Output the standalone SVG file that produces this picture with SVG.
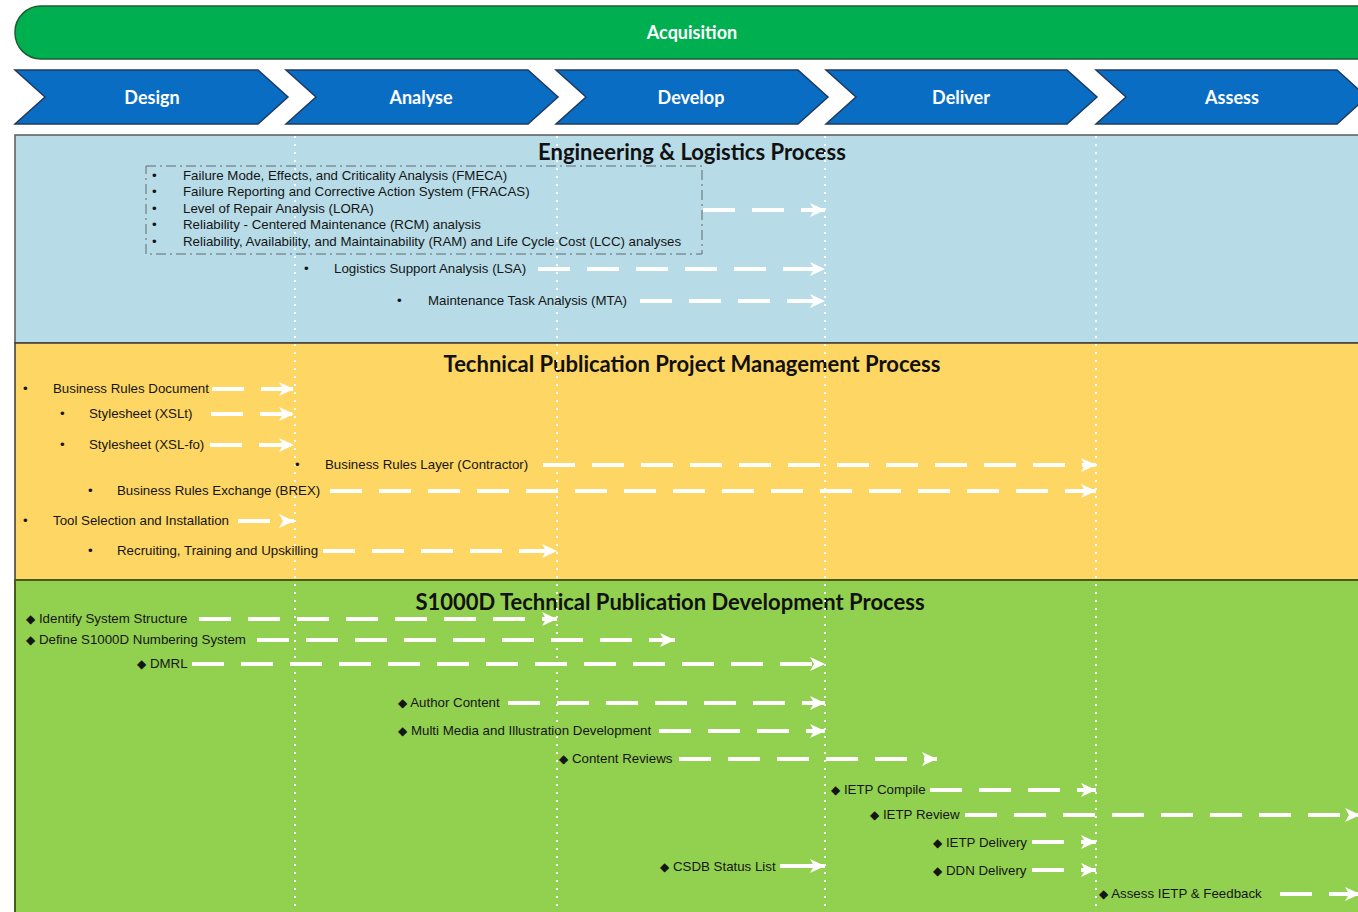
<svg xmlns="http://www.w3.org/2000/svg" width="1358" height="912" viewBox="0 0 1358 912">
<defs>
<style>
.phase{fill:#0a6dc4;stroke:#1f3a5f;stroke-width:1.5}
.phaseT{font-family:Lato,"Open Sans",sans-serif;font-weight:bold;font-size:18px;fill:#fff;text-anchor:middle}
.title{font-family:Lato,"Open Sans",sans-serif;font-weight:bold;font-size:22px;fill:#111;text-anchor:middle}
.lbl{font-family:"Liberation Sans",Arial,sans-serif;font-size:13.3px;fill:#151515}
.dia{font-family:"DejaVu Sans",sans-serif;font-size:12px}
.vline{stroke:#fff;stroke-width:2;stroke-dasharray:2 6;fill:none}
.arr{stroke:#fff;stroke-width:4;stroke-dasharray:32 17;fill:none;marker-end:url(#ah)}
.arrS{stroke:#fff;stroke-width:4;fill:none;marker-end:url(#ah)}
</style>
<marker id="ah" markerUnits="userSpaceOnUse" markerWidth="18" markerHeight="18" viewBox="0 0 18 18" refX="16" refY="9" orient="auto">
<path d="M1,2 L16,9 L1,16 L5,9 Z" fill="#fff"/>
</marker>
</defs>

<g id="acquisition">
<rect x="15" y="6" width="1380" height="53" rx="26" fill="#00b050" stroke="#1d5e30" stroke-width="1.5"/>
<text x="692" y="39" class="phaseT">Acquisition</text>
</g>

<g id="phases">
<g id="phase-design"><polygon class="phase" points="15,70 258,70 288,97 258,124 15,124 45,97"/><text x="152" y="103.5" class="phaseT">Design</text></g>
<g id="phase-analyse"><polygon class="phase" points="286,70 528,70 558,97 528,124 286,124 316,97"/><text x="421" y="103.5" class="phaseT">Analyse</text></g>
<g id="phase-develop"><polygon class="phase" points="556,70 798,70 828,97 798,124 556,124 586,97"/><text x="691" y="103.5" class="phaseT">Develop</text></g>
<g id="phase-deliver"><polygon class="phase" points="826,70 1067,70 1097,97 1067,124 826,124 856,97"/><text x="961" y="103.5" class="phaseT">Deliver</text></g>
<g id="phase-assess"><polygon class="phase" points="1096,70 1337,70 1367,97 1337,124 1096,124 1126,97"/><text x="1232" y="103.5" class="phaseT">Assess</text></g>
</g>

<g id="section-engineering">
<rect x="15" y="135" width="1360" height="208" fill="#b7dce7" stroke="#5a5a5a" stroke-width="1.5"/>
<text x="692" y="160" class="title">Engineering &amp; Logistics Process</text>
</g>
<g id="section-tppm">
<rect x="15" y="343" width="1360" height="237" fill="#fed663" stroke="#3a3a3a" stroke-width="1.5"/>
<text x="692" y="372" class="title">Technical Publication Project Management Process</text>
</g>
<g id="section-s1000d">
<rect x="15" y="580" width="1360" height="340" fill="#92d050" stroke="#4a5a1a" stroke-width="2"/>
<text x="670" y="610" class="title">S1000D Technical Publication Development Process</text>
</g>

<g id="phase-dividers">
<line class="vline" x1="295" y1="128" x2="295" y2="912"/>
<line class="vline" x1="557" y1="128" x2="557" y2="912"/>
<line class="vline" x1="825" y1="128" x2="825" y2="912"/>
<line class="vline" x1="1096" y1="128" x2="1096" y2="912"/>
</g>

<g id="node-analyses">
<rect x="146" y="166" width="556" height="88" fill="none" stroke="#5f6b70" stroke-width="1" stroke-dasharray="10 4 2 4"/>
<text class="lbl" x="152" y="180">•</text><text class="lbl" x="183" y="180">Failure Mode, Effects, and Criticality Analysis (FMECA)</text>
<text class="lbl" x="152" y="196">•</text><text class="lbl" x="183" y="196">Failure Reporting and Corrective Action System (FRACAS)</text>
<text class="lbl" x="152" y="213">•</text><text class="lbl" x="183" y="213">Level of Repair Analysis (LORA)</text>
<text class="lbl" x="152" y="229">•</text><text class="lbl" x="183" y="229">Reliability - Centered Maintenance (RCM) analysis</text>
<text class="lbl" x="152" y="246">•</text><text class="lbl" x="183" y="246">Reliability, Availability, and Maintainability (RAM) and Life Cycle Cost (LCC) analyses</text>
</g>
<g id="node-lsa"><text class="lbl" x="304" y="273">•</text><text class="lbl" x="334" y="273">Logistics Support Analysis (LSA)</text></g>
<g id="node-mta"><text class="lbl" x="397" y="305">•</text><text class="lbl" x="428" y="305">Maintenance Task Analysis (MTA)</text></g>

<g id="node-brd"><text class="lbl" x="23" y="393">•</text><text class="lbl" x="53" y="393">Business Rules Document</text></g>
<g id="node-xslt"><text class="lbl" x="60" y="418">•</text><text class="lbl" x="89" y="418">Stylesheet (XSLt)</text></g>
<g id="node-xslfo"><text class="lbl" x="60" y="449">•</text><text class="lbl" x="89" y="449">Stylesheet (XSL-fo)</text></g>
<g id="node-brl"><text class="lbl" x="295" y="469">•</text><text class="lbl" x="325" y="469">Business Rules Layer (Contractor)</text></g>
<g id="node-brex"><text class="lbl" x="88" y="495">•</text><text class="lbl" x="117" y="495">Business Rules Exchange (BREX)</text></g>
<g id="node-tool"><text class="lbl" x="23" y="525">•</text><text class="lbl" x="53" y="525">Tool Selection and Installation</text></g>
<g id="node-recruit"><text class="lbl" x="88" y="555">•</text><text class="lbl" x="117" y="555">Recruiting, Training and Upskilling</text></g>

<g id="node-identify"><text class="lbl" x="26" y="623"><tspan class="dia">◆</tspan> Identify System Structure</text></g>
<g id="node-define"><text class="lbl" x="26" y="644"><tspan class="dia">◆</tspan> Define S1000D Numbering System</text></g>
<g id="node-dmrl"><text class="lbl" x="137" y="668"><tspan class="dia">◆</tspan> DMRL</text></g>
<g id="node-author"><text class="lbl" x="398" y="707"><tspan class="dia">◆</tspan> Author Content</text></g>
<g id="node-media"><text class="lbl" x="398" y="735"><tspan class="dia">◆</tspan> Multi Media and Illustration Development</text></g>
<g id="node-reviews"><text class="lbl" x="559" y="763"><tspan class="dia">◆</tspan> Content Reviews</text></g>
<g id="node-compile"><text class="lbl" x="831" y="794"><tspan class="dia">◆</tspan> IETP Compile</text></g>
<g id="node-review"><text class="lbl" x="870" y="819"><tspan class="dia">◆</tspan> IETP Review</text></g>
<g id="node-delivery"><text class="lbl" x="933" y="847"><tspan class="dia">◆</tspan> IETP Delivery</text></g>
<g id="node-ddn"><text class="lbl" x="933" y="875"><tspan class="dia">◆</tspan> DDN Delivery</text></g>
<g id="node-csdb"><text class="lbl" x="660" y="871"><tspan class="dia">◆</tspan> CSDB Status List</text></g>
<g id="node-assess"><text class="lbl" x="1099" y="898"><tspan class="dia">◆</tspan> Assess IETP &amp; Feedback</text></g>

<g id="connectors">
<line class="arr" x1="703" y1="210" x2="825" y2="210"/>
<line class="arr" x1="538" y1="269" x2="825" y2="269"/>
<line class="arr" x1="640" y1="301" x2="825" y2="301"/>
<line class="arr" x1="212" y1="389" x2="294" y2="389"/>
<line class="arr" x1="211" y1="414" x2="294" y2="414"/>
<line class="arr" x1="210" y1="445" x2="294" y2="445"/>
<line class="arr" x1="543" y1="465" x2="1096" y2="465"/>
<line class="arr" x1="330" y1="491" x2="1096" y2="491"/>
<line class="arr" x1="238" y1="521" x2="294" y2="521"/>
<line class="arr" x1="323" y1="551" x2="557" y2="551"/>
<line class="arr" x1="199" y1="619" x2="557" y2="619"/>
<line class="arr" x1="257" y1="640" x2="675" y2="640"/>
<line class="arr" x1="192" y1="664" x2="825" y2="664"/>
<line class="arr" x1="508" y1="703" x2="825" y2="703"/>
<line class="arr" x1="659" y1="731" x2="825" y2="731"/>
<line class="arr" x1="679" y1="759" x2="937" y2="759"/>
<line class="arr" x1="930" y1="790" x2="1096" y2="790"/>
<line class="arr" x1="965" y1="815" x2="1360" y2="815"/>
<line class="arr" x1="1032" y1="842" x2="1096" y2="842"/>
<line class="arr" x1="1032" y1="870" x2="1096" y2="870"/>
<line class="arrS" x1="780" y1="866" x2="825" y2="866"/>
<line class="arr" x1="1280" y1="894" x2="1360" y2="894"/>
</g>
</svg>
